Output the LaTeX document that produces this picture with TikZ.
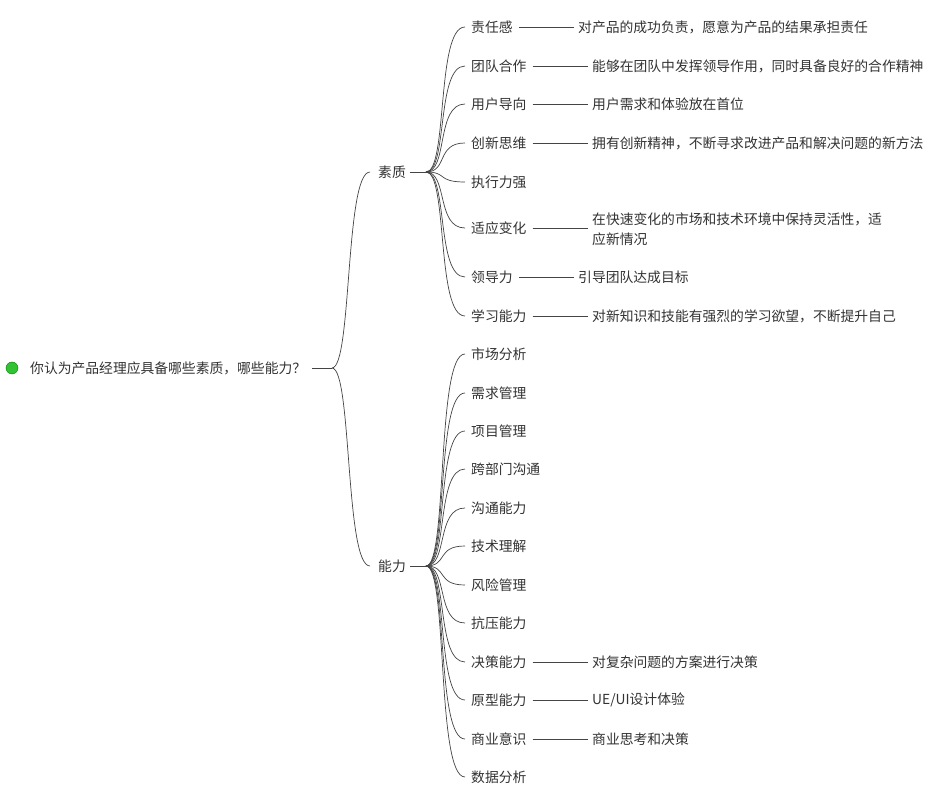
\documentclass[tikz,border=0pt]{standalone}
\usepackage{fontspec}
\setmainfont{Noto Sans CJK SC}
\definecolor{tx}{HTML}{333333}
\definecolor{ln}{HTML}{444444}
\begin{document}
\begin{tikzpicture}[x=1pt,y=-1pt,
  lab/.style={anchor=west,inner sep=0pt,text=tx,font=\fontsize{13.8}{20}\selectfont},
  br/.style={draw=ln,line width=0.7pt}]
\useasboundingbox (0,0) rectangle (951,799);
\fill[white] (0,0) rectangle (951,799);
\node[circle,fill=green!70!black!80,draw=green!50!black,minimum size=12pt,inner sep=0pt] (dot) at (12,368) {};
\node[lab] (root) at (30,368) {你认为产品经理应具备哪些素质，哪些能力？};
\coordinate (rj) at (332,368);
\draw[br] (root.east)++(6,0) -- (rj);
\node[lab] (q) at (378,172) {素质};
\node[lab] (n) at (378,566) {能力};
\coordinate (qe) at (370,172); \coordinate (ne) at (370,566);
\coordinate (qj) at (426,172); \coordinate (nj) at (426,566);
\draw[br] (rj) .. controls (352,368) and (345,172) .. (qe);
\draw[br] (rj) .. controls (352,368) and (345,566) .. (ne);
\draw[br] (q.east)++(4,0) -- (qj);
\draw[br] (n.east)++(4,0) -- (nj);
\newcommand{\kidq}[3]{%
  \node[lab] (#1) at (471,#2) {#3};
  \coordinate (#1e) at (465,#2);
  \draw[br] (qj) .. controls (448,172) and (436,#2) .. (#1e);}
\newcommand{\kidn}[3]{%
  \node[lab] (#1) at (471,#2) {#3};
  \coordinate (#1e) at (465,#2);
  \draw[br] (nj) .. controls (448,566) and (436,#2) .. (#1e);}
\newcommand{\detl}[4]{%
  \node[lab,align=left,text width=360pt] (#1) at (#3,0 |- #2) {#4};
  \coordinate (#1s) at (#3-4,0 |- #2);
  \draw[br] (#2.east)++(6,0) -- (#1s);}
\kidq{a1}{27}{责任感}
\kidq{a2}{66}{团队合作}
\kidq{a3}{104}{用户导向}
\kidq{a4}{143}{创新思维}
\kidq{a5}{182}{执行力强}
\kidq{a6}{228}{适应变化}
\kidq{a7}{277}{领导力}
\kidq{a8}{316}{学习能力}
\detl{d1}{a1}{578}{对产品的成功负责，愿意为产品的结果承担责任}
\detl{d2}{a2}{592}{能够在团队中发挥领导作用，同时具备良好的合作精神}
\detl{d3}{a3}{592}{用户需求和体验放在首位}
\detl{d4}{a4}{592}{拥有创新精神，不断寻求改进产品和解决问题的新方法}
\node[lab,align=left,text width=340pt] (d6) at (592,229) {在快速变化的市场和技术环境中保持灵活性，适\\应新情况};
\coordinate (d6s) at (588,228);
\draw[br] (a6.east)++(6,0) -- (d6s);
\detl{d7}{a7}{578}{引导团队达成目标}
\detl{d8}{a8}{592}{对新知识和技能有强烈的学习欲望，不断提升自己}
\kidn{b1}{354}{市场分析}
\kidn{b2}{393}{需求管理}
\kidn{b3}{431}{项目管理}
\kidn{b4}{469}{跨部门沟通}
\kidn{b5}{508}{沟通能力}
\kidn{b6}{546}{技术理解}
\kidn{b7}{585}{风险管理}
\kidn{b8}{623}{抗压能力}
\kidn{b9}{662}{决策能力}
\kidn{b10}{700}{原型能力}
\kidn{b11}{739}{商业意识}
\kidn{b12}{777}{数据分析}
\detl{e9}{b9}{592}{对复杂问题的方案进行决策}
\detl{e10}{b10}{592}{UE/UI设计体验}
\detl{e11}{b11}{592}{商业思考和决策}
\end{tikzpicture}
\end{document}
